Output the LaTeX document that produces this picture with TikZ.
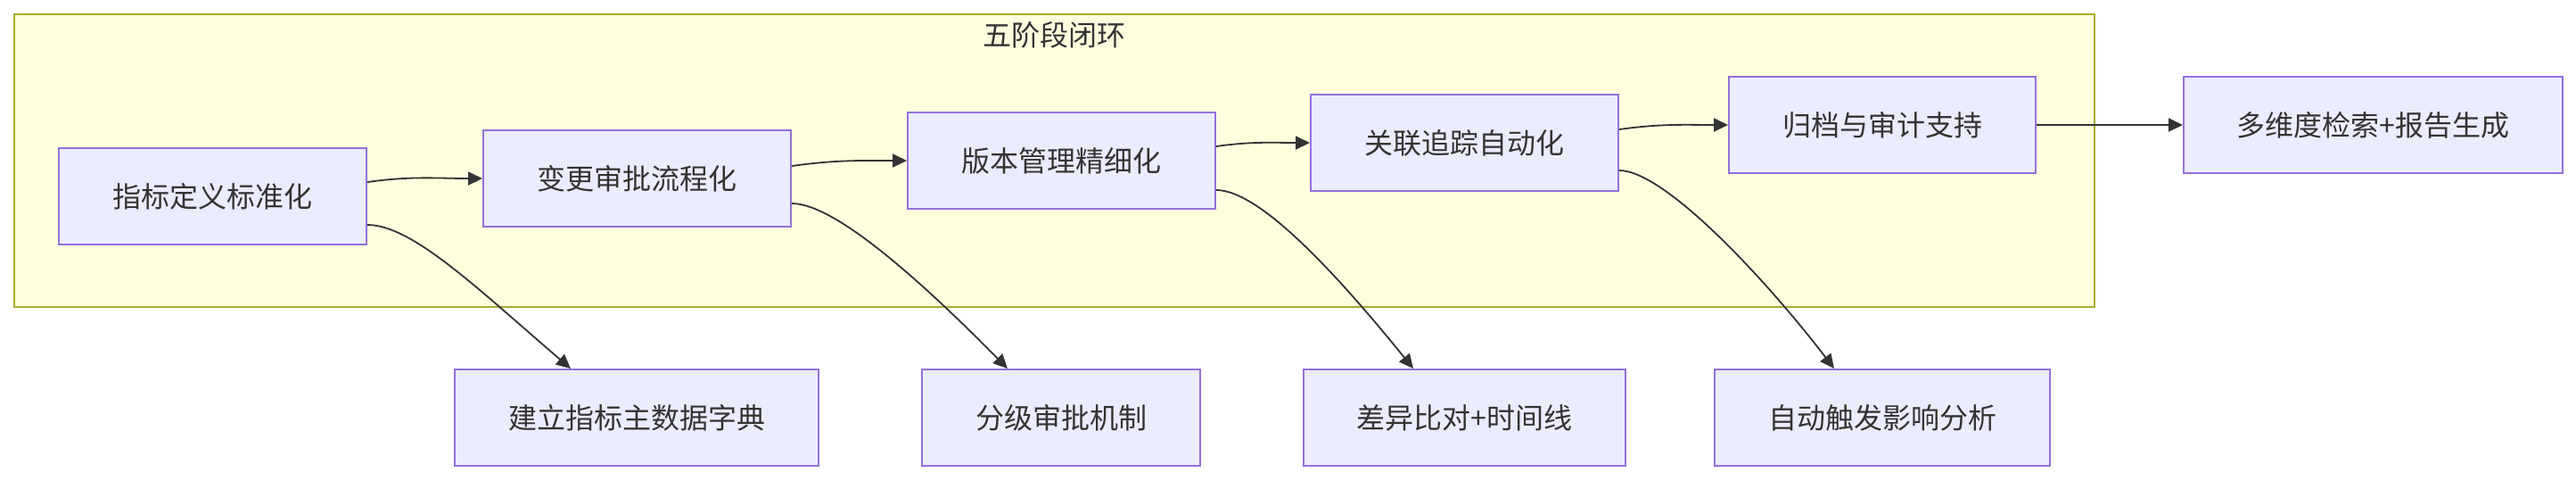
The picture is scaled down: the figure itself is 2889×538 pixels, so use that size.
\documentclass[tikz,border=0pt]{standalone}
\usepackage{fontspec}
\setmainfont{Noto Sans CJK SC}
\usetikzlibrary{arrows.meta}
\definecolor{mydark}{RGB}{51,51,51}
\definecolor{myviolet}{RGB}{147,112,219}
\definecolor{hdrviolet}{RGB}{236,236,255}
\definecolor{myolive}{RGB}{170,170,51}
\definecolor{hdrolive}{RGB}{255,255,222}
\tikzset{
  box/.style={rectangle, draw=myviolet, fill=hdrviolet, text=mydark,
    minimum width=172.5pt, minimum height=54pt, inner sep=0pt,
    font=\fontsize{16pt}{19pt}\selectfont, line width=1pt},
  cluster/.style={rectangle, draw=myolive, fill=hdrolive,
    inner sep=0pt, line width=1pt},
  arrow/.style={-{Triangle[length=8pt,width=7.5pt]}, line width=0.9pt, color=mydark}
}

\begin{document}
\begin{tikzpicture}[x=0.5pt, y=0.5pt]
  \useasboundingbox (0,0) rectangle (2889,-538);

  % five-stage loop
  \node[cluster, minimum width=1166.5pt, minimum height=164pt] (loop) at (1182.5,-180) {};
  \node[text=mydark, font=\fontsize{16pt}{19pt}\selectfont] (title)
    at ([yshift=-12pt]loop.north) {五阶段闭环};

  \node[box] (std)   at (238.5,-220) {指标定义标准化};
  \node[box] (appr)  at (714.5,-200) {变更审批流程化};
  \node[box] (ver)   at (1190.5,-180) {版本管理精细化};
  \node[box] (trace) at (1642.5,-160) {关联追踪自动化};
  \node[box, minimum width=172pt] (arch) at (2111,-140) {归档与审计支持};
  \node[box, minimum width=212.5pt] (search) at (2661.5,-140) {多维度检索+报告生成};

  % outcomes
  \node[box, minimum width=204pt]   (dict)   at (714,-468)    {建立指标主数据字典};
  \node[box, minimum width=156pt]   (grade)  at (1190,-468)   {分级审批机制};
  \node[box, minimum width=180.5pt] (diff)   at (1642.5,-468) {差异比对+时间线};
  \node[box, minimum width=188pt]   (impact) at (2111,-468)   {自动触发影响分析};

  \draw[arrow] ([yshift=8pt]std.east) to[out=8, in=180] (appr.west);
  \draw[arrow] ([yshift=7pt]appr.east) to[out=8, in=180] (ver.west);
  \draw[arrow] ([yshift=8pt]ver.east) to[out=8, in=180] (trace.west);
  \draw[arrow] ([yshift=7.5pt]trace.east) to[out=8, in=180] (arch.west);
  \draw[arrow] (arch) -- (search);

  \draw[arrow] ([yshift=-16pt]std.east) .. controls +(50,0) and +(-106,91) .. ([xshift=-37pt]dict.north);
  \draw[arrow] ([yshift=-14pt]appr.east) .. controls +(50,0) and +(-91,92) .. ([xshift=-30pt]grade.north);
  \draw[arrow] ([yshift=-16.5pt]ver.east) .. controls +(50,0) and +(-82,101) .. ([xshift=-28.75pt]diff.north);
  \draw[arrow] ([yshift=-15.5pt]trace.east) .. controls +(50,0) and +(-79,103) .. ([xshift=-27pt]impact.north);
\end{tikzpicture}
\end{document}
